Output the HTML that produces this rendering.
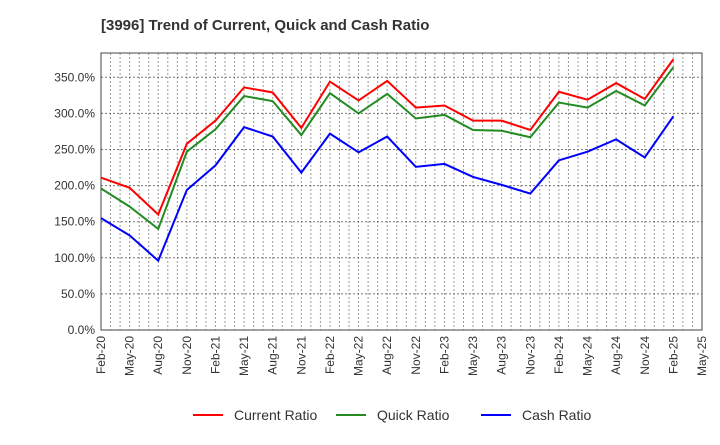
<!DOCTYPE html>
<html><head><meta charset="utf-8"><style>
body{margin:0;background:#fff;font-family:"Liberation Sans",sans-serif;}
</style></head><body>
<svg width="720" height="440" xmlns="http://www.w3.org/2000/svg" font-family="Liberation Sans, sans-serif">
<text x="101" y="30" font-size="15" font-weight="bold" fill="#333">[3996]  Trend of Current, Quick and Cash Ratio</text>
<g id="grid"></g><g id="axes"></g><g id="series"></g><g id="legend"></g>
</svg>
<script>
const xLabels=["Feb-20","May-20","Aug-20","Nov-20","Feb-21","May-21","Aug-21","Nov-21","Feb-22","May-22","Aug-22","Nov-22","Feb-23","May-23","Aug-23","Nov-23","Feb-24","May-24","Aug-24","Nov-24","Feb-25","May-25"];
const yTicks=[0,50,100,150,200,250,300,350];
const currentRatio=[211,197,160,258,290,336,329,280,344,318,345,308,311,290,290,277,330,319,342,320,375];
const quickRatio=[196,171,140,247,278,324,317,270,328,300,327,293,298,277,276,267,315,308,331,311,364];
const cashRatio=[155,131,96,194,228,281,268,218,272,246,268,226,230,212,201,189,235,247,264,239,296];
const NS="http://www.w3.org/2000/svg";
const L=101,R=702,T=53,B=330;
const xs=m=>L+(R-L)*m/63;
const ys=v=>B-(B-277.3-0)*0+(-(v/50)*((B-77.3)/7));
function mk(tag,attrs,parent){const e=document.createElementNS(NS,tag);for(const k in attrs)e.setAttribute(k,attrs[k]);parent.appendChild(e);return e;}
const grid=document.getElementById('grid'),axes=document.getElementById('axes'),ser=document.getElementById('series'),leg=document.getElementById('legend');
for(let m=0;m<=63;m++){const l=mk('line',{x1:xs(m),x2:xs(m),y1:T,y2:B,stroke:'#999','stroke-dasharray':'2,2','stroke-width':1},grid);

}
yTicks.forEach(v=>{const l=mk('line',{x1:L,x2:R,y1:ys(v),y2:ys(v),stroke:'#777','stroke-dasharray':'2,2','stroke-width':1},grid);


const t=mk('text',{x:L-6,y:ys(v)+4,'text-anchor':'end','font-size':12,fill:'#333'},axes);t.textContent=v.toFixed(1)+'%';

});
xLabels.forEach((s,i)=>{const x=xs(i*3);const t=mk('text',{transform:`translate(${x+4},${B+6}) rotate(-90)`,'text-anchor':'end','font-size':12,fill:'#333'},axes);t.textContent=s;

});
const frame=mk('rect',{x:L,y:T,width:R-L,height:B-T,fill:'none',stroke:'#444','stroke-width':1},axes);


[[currentRatio,'#ff0000','current-ratio-line'],[quickRatio,'#228b22','quick-ratio-line'],[cashRatio,'#0000ff','cash-ratio-line']].forEach(([d,c,n])=>{
const p=mk('polyline',{points:d.map((v,i)=>xs(i*3)+','+ys(v)).join(' '),fill:'none',stroke:c,'stroke-width':2},ser);

});
[['Current Ratio','#ff0000',193],['Quick Ratio','#228b22',336],['Cash Ratio','#0000ff',481]].forEach(([s,c,x])=>{
const g=mk('g',{},leg);


mk('line',{x1:x,x2:x+30,y1:415,y2:415,stroke:c,'stroke-width':2},g);
const t=mk('text',{x:x+41,y:420,'font-size':14,fill:'#333'},g);t.textContent=s;});
</script>
</body></html>
